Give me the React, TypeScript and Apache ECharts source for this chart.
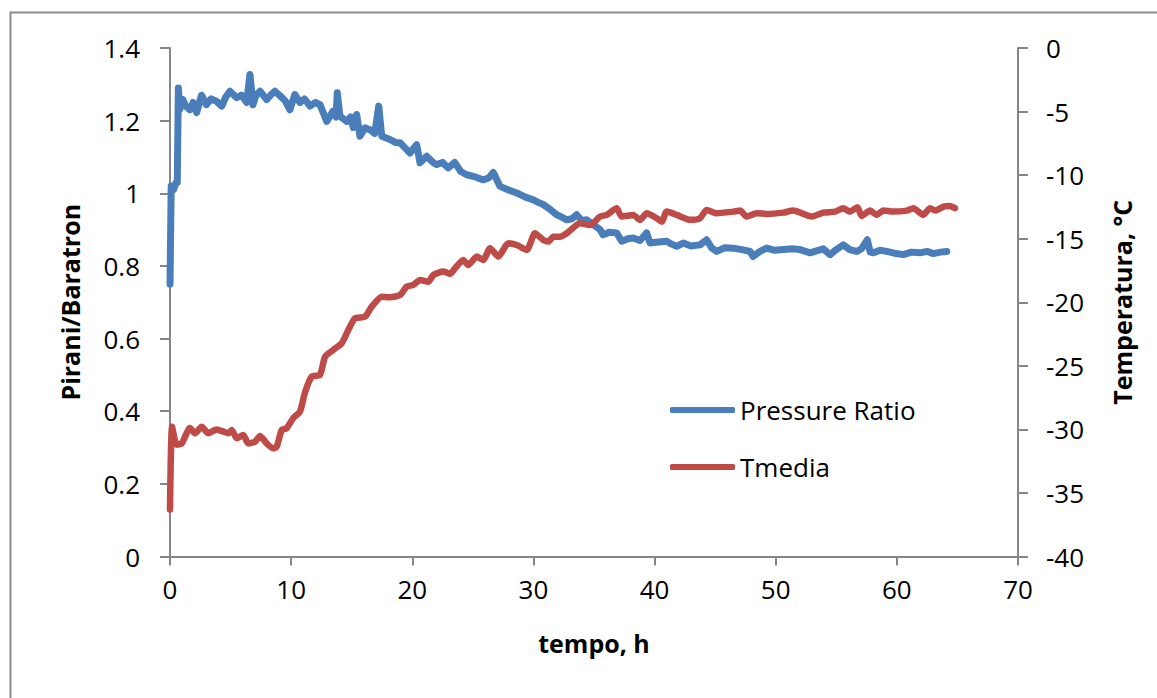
import React, { useEffect, useRef } from "react";
import * as echarts from "echarts";

// x: tempo (h), y: Pirani/Baratron
const pressureRatio: [number, number][] = [
  [0, 0.75], [0.1, 1.02], [0.3, 1.01], [0.5, 1.03], [0.6, 1.03], [0.69, 1.29], [0.8, 1.23],
  [1.07, 1.258], [1.3, 1.24], [1.65, 1.23], [1.9, 1.25], [2.2, 1.222], [2.6, 1.27], [3.0, 1.244],
  [3.4, 1.26], [3.85, 1.253], [4.27, 1.24], [4.6, 1.265], [4.95, 1.281], [5.5, 1.263], [5.9, 1.27],
  [6.33, 1.25], [6.6, 1.327], [6.85, 1.244], [7.1, 1.27], [7.43, 1.281], [7.98, 1.258], [8.3, 1.27],
  [8.67, 1.281], [9.22, 1.264], [9.5, 1.255], [9.9, 1.23], [10.3, 1.272], [10.73, 1.25], [11.1, 1.26],
  [11.56, 1.24], [12.0, 1.25], [12.38, 1.244], [12.94, 1.198], [13.46, 1.226], [13.7, 1.21],
  [13.81, 1.277], [14.03, 1.212], [14.59, 1.198], [14.9, 1.21], [15.13, 1.181], [15.41, 1.217],
  [15.68, 1.157], [16.1, 1.18], [16.51, 1.175], [16.9, 1.165], [17.23, 1.24], [17.48, 1.157],
  [18.16, 1.148], [18.6, 1.14], [18.99, 1.139], [19.4, 1.125], [19.81, 1.111], [20.36, 1.134],
  [20.64, 1.084], [21.19, 1.102], [21.74, 1.084], [22.02, 1.079], [22.5, 1.085], [22.95, 1.07],
  [23.11, 1.074], [23.5, 1.085], [24.0, 1.06], [24.49, 1.051], [25.2, 1.045], [25.86, 1.037],
  [26.3, 1.042], [26.69, 1.057], [27.24, 1.019], [27.9, 1.01], [28.62, 1.001], [29.3, 0.99],
  [29.99, 0.982], [30.4, 0.975], [30.82, 0.969], [31.4, 0.955], [31.92, 0.941], [32.3, 0.935],
  [32.75, 0.927], [33.2, 0.93], [33.57, 0.941], [34.0, 0.925], [34.4, 0.927], [35.0, 0.912],
  [35.5, 0.9], [35.74, 0.886], [36.3, 0.893], [36.87, 0.891], [37.29, 0.868], [37.8, 0.875],
  [38.24, 0.877], [38.8, 0.87], [39.35, 0.891], [39.62, 0.863], [40.3, 0.866], [41.0, 0.868],
  [41.4, 0.86], [41.83, 0.854], [42.37, 0.863], [43.0, 0.855], [43.75, 0.858], [44.3, 0.872],
  [44.7, 0.85], [45.13, 0.84], [45.8, 0.85], [46.5, 0.849], [47.2, 0.845], [47.88, 0.84],
  [48.13, 0.826], [48.7, 0.84], [49.26, 0.849], [49.9, 0.843], [50.63, 0.845], [51.45, 0.847],
  [52.0, 0.845], [52.84, 0.836], [53.93, 0.847], [54.48, 0.831], [55.0, 0.845], [55.58, 0.858],
  [56.1, 0.845], [56.69, 0.84], [57.1, 0.848], [57.56, 0.872], [57.8, 0.838], [58.06, 0.836],
  [58.6, 0.843], [59.16, 0.84], [59.8, 0.835], [60.53, 0.831], [61.2, 0.838], [61.91, 0.836],
  [62.5, 0.84], [63.01, 0.834], [63.6, 0.838], [64.12, 0.84],
];

// x: tempo (h), y: Temperatura (°C)
const tmedia: [number, number][] = [
  [0, -36.3], [0.17, -29.8], [0.55, -31.2], [0.97, -31.1], [1.65, -29.9], [2.06, -30.3],
  [2.62, -29.8], [3.16, -30.3], [3.85, -30.0], [4.81, -30.3], [5.09, -30.05], [5.51, -30.7],
  [6.05, -30.44], [6.46, -31.1], [7.02, -30.97], [7.43, -30.52], [7.98, -31.1], [8.53, -31.49],
  [8.81, -31.36], [9.22, -30.05], [9.63, -29.91], [10.18, -29.1], [10.73, -28.6], [11.14, -27.1],
  [11.7, -25.85], [12.38, -25.72], [12.8, -24.28], [13.48, -23.75], [14.17, -23.23], [14.72, -22.18],
  [15.27, -21.26], [16.1, -21.13], [16.65, -20.35], [17.48, -19.56], [18.16, -19.61], [18.99, -19.43],
  [19.54, -18.77], [20.08, -18.64], [20.64, -18.24], [21.32, -18.38], [21.74, -17.85], [22.56, -17.59],
  [23.11, -17.77], [23.53, -17.33], [24.21, -16.67], [24.62, -17.07], [25.32, -16.41], [25.86, -16.67],
  [26.42, -15.75], [27.1, -16.41], [27.93, -15.36], [28.62, -15.5], [29.45, -15.89], [30.13, -14.57],
  [30.82, -15.1], [31.23, -15.23], [31.64, -14.84], [32.19, -14.84], [32.75, -14.57], [33.85, -13.78],
  [34.67, -13.92], [35.5, -13.26], [36.05, -13.13], [36.87, -12.6], [37.29, -13.26], [38.24, -13.13],
  [38.8, -13.52], [39.35, -13.0], [40.18, -13.39], [40.59, -13.66], [41.0, -12.87], [41.83, -13.13],
  [42.93, -13.52], [43.75, -13.39], [44.3, -12.74], [45.13, -13.0], [46.5, -12.87], [47.05, -12.79],
  [47.6, -13.26], [48.43, -13.0], [49.26, -13.05], [50.63, -12.95], [51.45, -12.79], [52.97, -13.26],
  [53.93, -12.95], [54.9, -12.87], [55.58, -12.6], [56.13, -12.87], [56.74, -12.53], [57.1, -13.21],
  [57.79, -12.79], [58.34, -13.13], [58.88, -12.79], [59.71, -12.87], [60.81, -12.79], [61.36, -12.6],
  [62.18, -13.13], [62.74, -12.6], [63.15, -12.79], [63.84, -12.48], [64.39, -12.42], [64.8, -12.6],
];

const seriesNames = ["Pressure Ratio", "Tmedia"];
const xRange = { min: 0, max: 70, interval: 10 };
const leftRange = { min: 0, max: 1.4, interval: 0.2 };
const rightRange = { min: -40, max: 0, interval: 5 };

const FONT = "'Open Sans', 'Noto Sans', sans-serif";
const AXIS_COLOR = "#868686";

export default function App() {
  const ref = useRef<HTMLDivElement>(null);
  useEffect(() => {
    if (!ref.current) return;
    const chart = echarts.init(ref.current, undefined, { renderer: "svg" });
    const axisLine = { show: true, lineStyle: { color: AXIS_COLOR, width: 2 } };
    const axisTick = { show: true, length: 10, lineStyle: { color: AXIS_COLOR, width: 2 } };
    const labelStyle = { color: "#000", fontFamily: FONT, fontSize: 26 };
    const nameStyle = { color: "#000", fontFamily: FONT, fontSize: 25, fontWeight: "bold" as const };
    chart.setOption({
      animation: false,
      backgroundColor: "#fff",
      textStyle: { fontFamily: FONT },
      grid: { left: 170, right: 139, top: 48, bottom: 141.5, containLabel: false },
      graphic: [
        {
          type: "rect",
          shape: { x: 10.5, y: 12.5, width: 1300, height: 800 },
          style: { fill: "none", stroke: "#8c8c8c", lineWidth: 2 },
          silent: true,
        },
      ],
      legend: {
        orient: "vertical",
        left: 665,
        top: 390,
        itemWidth: 65,
        itemHeight: 6,
        itemGap: 27,
        icon: "roundRect",
        data: seriesNames,
        textStyle: { color: "#000", fontFamily: FONT, fontSize: 26, lineHeight: 30 },
      },
      xAxis: {
        type: "value",
        ...xRange,
        name: "tempo, h",
        nameLocation: "middle",
        nameGap: 74,
        nameTextStyle: nameStyle,
        axisLine,
        axisTick: { ...axisTick, length: 9 },
        axisLabel: { ...labelStyle, margin: 19 },
        splitLine: { show: false },
      },
      yAxis: [
        {
          type: "value",
          position: "left",
          ...leftRange,
          name: "Pirani/Baratron",
          nameLocation: "middle",
          nameRotate: 90,
          nameGap: 88,
          nameTextStyle: nameStyle,
          axisLine,
          axisTick,
          axisLabel: { ...labelStyle, margin: 30 },
          splitLine: { show: false },
        },
        {
          type: "value",
          position: "right",
          ...rightRange,
          name: "Temperatura, °C",
          nameLocation: "middle",
          nameRotate: 90,
          nameGap: 91,
          nameTextStyle: nameStyle,
          axisLine,
          axisTick,
          axisLabel: { ...labelStyle, margin: 28 },
          splitLine: { show: false },
        },
      ],
      series: [
        {
          name: seriesNames[0],
          type: "line",
          yAxisIndex: 0,
          data: pressureRatio,
          showSymbol: false,
          symbol: "none",
          lineStyle: { color: "#4A7EBB", width: 7, cap: "round", join: "round" },
          itemStyle: { color: "#4A7EBB" },
        },
        {
          name: seriesNames[1],
          type: "line",
          yAxisIndex: 1,
          data: tmedia,
          showSymbol: false,
          symbol: "none",
          smooth: 0.2,
          lineStyle: { color: "#BE4B48", width: 6.5, cap: "round", join: "round" },
          itemStyle: { color: "#BE4B48" },
        },
      ],
    });
    return () => chart.dispose();
  }, []);
  return (
    <div
      ref={ref}
      style={{ position: "fixed", left: 0, top: 0, width: 1157, height: 698, background: "#fff" }}
    />
  );
}
